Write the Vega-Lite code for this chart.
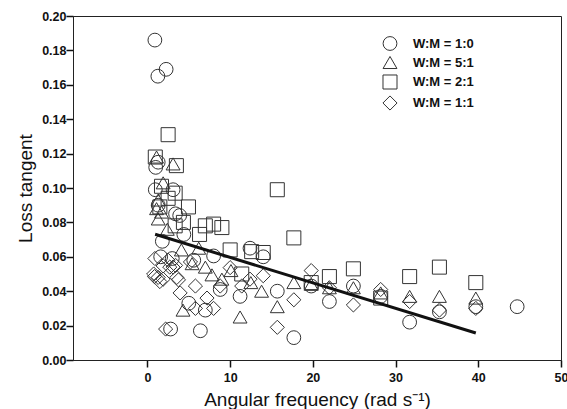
{
  "$schema": "https://vega.github.io/schema/vega-lite/v6.json",
  "width": 488,
  "height": 344,
  "autosize": {"type": "none"},
  "padding": {"left": 73, "top": 16, "right": 6, "bottom": 49},
  "background": "white",
  "config": {
    "view": {"stroke": "#222", "strokeWidth": 1, "fill": null},
    "font": "Liberation Sans",
    "axis": {"labelOverlap": false, "ticks": true, "tickColor": "#111", "tickWidth": 1.5, "grid": false, "zindex": 1}
  },
  "datasets": {
    "pts": [
      {"g": "W:M = 1:0", "x": 0.9, "y": 0.186},
      {"g": "W:M = 1:0", "x": 1.26, "y": 0.165},
      {"g": "W:M = 1:0", "x": 2.26, "y": 0.169},
      {"g": "W:M = 1:0", "x": 1.0, "y": 0.112},
      {"g": "W:M = 1:0", "x": 1.3, "y": 0.115},
      {"g": "W:M = 1:0", "x": 0.95, "y": 0.099},
      {"g": "W:M = 1:0", "x": 3.1, "y": 0.099},
      {"g": "W:M = 1:0", "x": 1.3, "y": 0.09},
      {"g": "W:M = 1:0", "x": 1.8, "y": 0.069},
      {"g": "W:M = 1:0", "x": 3.4, "y": 0.085},
      {"g": "W:M = 1:0", "x": 3.9, "y": 0.084},
      {"g": "W:M = 1:0", "x": 4.4, "y": 0.073},
      {"g": "W:M = 1:0", "x": 8.0, "y": 0.0605},
      {"g": "W:M = 1:0", "x": 5.6, "y": 0.058},
      {"g": "W:M = 1:0", "x": 1.6, "y": 0.06},
      {"g": "W:M = 1:0", "x": 3.0, "y": 0.059},
      {"g": "W:M = 1:0", "x": 8.8, "y": 0.041},
      {"g": "W:M = 1:0", "x": 11.2, "y": 0.037},
      {"g": "W:M = 1:0", "x": 12.4, "y": 0.065},
      {"g": "W:M = 1:0", "x": 14.0, "y": 0.06},
      {"g": "W:M = 1:0", "x": 5.0, "y": 0.033},
      {"g": "W:M = 1:0", "x": 7.0, "y": 0.029},
      {"g": "W:M = 1:0", "x": 2.8, "y": 0.018},
      {"g": "W:M = 1:0", "x": 6.4, "y": 0.017},
      {"g": "W:M = 1:0", "x": 15.7, "y": 0.04},
      {"g": "W:M = 1:0", "x": 17.7, "y": 0.013},
      {"g": "W:M = 1:0", "x": 19.8, "y": 0.043},
      {"g": "W:M = 1:0", "x": 22.0, "y": 0.034},
      {"g": "W:M = 1:0", "x": 24.9, "y": 0.043},
      {"g": "W:M = 1:0", "x": 28.2, "y": 0.037},
      {"g": "W:M = 1:0", "x": 31.7, "y": 0.022},
      {"g": "W:M = 1:0", "x": 35.3, "y": 0.028},
      {"g": "W:M = 1:0", "x": 39.7, "y": 0.031},
      {"g": "W:M = 1:0", "x": 44.7, "y": 0.031},
      {"g": "W:M = 5:1", "x": 1.1, "y": 0.118},
      {"g": "W:M = 5:1", "x": 3.1, "y": 0.114},
      {"g": "W:M = 5:1", "x": 1.9, "y": 0.103},
      {"g": "W:M = 5:1", "x": 1.3, "y": 0.093},
      {"g": "W:M = 5:1", "x": 1.1, "y": 0.088},
      {"g": "W:M = 5:1", "x": 1.3, "y": 0.082},
      {"g": "W:M = 5:1", "x": 1.7, "y": 0.086},
      {"g": "W:M = 5:1", "x": 2.4, "y": 0.076},
      {"g": "W:M = 5:1", "x": 4.1, "y": 0.064},
      {"g": "W:M = 5:1", "x": 6.2, "y": 0.065},
      {"g": "W:M = 5:1", "x": 7.0, "y": 0.054},
      {"g": "W:M = 5:1", "x": 7.8, "y": 0.0495},
      {"g": "W:M = 5:1", "x": 9.0, "y": 0.047},
      {"g": "W:M = 5:1", "x": 10.1, "y": 0.052},
      {"g": "W:M = 5:1", "x": 5.4, "y": 0.056},
      {"g": "W:M = 5:1", "x": 4.3, "y": 0.029},
      {"g": "W:M = 5:1", "x": 11.2, "y": 0.025},
      {"g": "W:M = 5:1", "x": 12.5, "y": 0.045},
      {"g": "W:M = 5:1", "x": 13.8, "y": 0.04},
      {"g": "W:M = 5:1", "x": 15.7, "y": 0.031},
      {"g": "W:M = 5:1", "x": 17.7, "y": 0.045},
      {"g": "W:M = 5:1", "x": 19.8, "y": 0.044},
      {"g": "W:M = 5:1", "x": 22.0, "y": 0.042},
      {"g": "W:M = 5:1", "x": 24.9, "y": 0.042},
      {"g": "W:M = 5:1", "x": 28.2, "y": 0.039},
      {"g": "W:M = 5:1", "x": 31.7, "y": 0.037},
      {"g": "W:M = 5:1", "x": 35.3, "y": 0.037},
      {"g": "W:M = 5:1", "x": 39.7, "y": 0.036},
      {"g": "W:M = 2:1", "x": 2.5, "y": 0.131},
      {"g": "W:M = 2:1", "x": 0.95, "y": 0.118},
      {"g": "W:M = 2:1", "x": 3.5, "y": 0.113},
      {"g": "W:M = 2:1", "x": 1.7, "y": 0.101},
      {"g": "W:M = 2:1", "x": 2.5, "y": 0.094},
      {"g": "W:M = 2:1", "x": 1.5, "y": 0.089},
      {"g": "W:M = 2:1", "x": 3.35, "y": 0.097},
      {"g": "W:M = 2:1", "x": 4.96, "y": 0.089},
      {"g": "W:M = 2:1", "x": 4.35, "y": 0.08},
      {"g": "W:M = 2:1", "x": 3.35, "y": 0.078},
      {"g": "W:M = 2:1", "x": 7.0, "y": 0.078},
      {"g": "W:M = 2:1", "x": 8.0, "y": 0.079},
      {"g": "W:M = 2:1", "x": 9.0, "y": 0.077},
      {"g": "W:M = 2:1", "x": 6.3, "y": 0.073},
      {"g": "W:M = 2:1", "x": 10.0, "y": 0.064},
      {"g": "W:M = 2:1", "x": 11.4, "y": 0.05},
      {"g": "W:M = 2:1", "x": 12.6, "y": 0.063},
      {"g": "W:M = 2:1", "x": 14.0, "y": 0.0625},
      {"g": "W:M = 2:1", "x": 15.7, "y": 0.099},
      {"g": "W:M = 2:1", "x": 17.7, "y": 0.071},
      {"g": "W:M = 2:1", "x": 19.8, "y": 0.045},
      {"g": "W:M = 2:1", "x": 22.0, "y": 0.0485},
      {"g": "W:M = 2:1", "x": 24.9, "y": 0.053},
      {"g": "W:M = 2:1", "x": 28.2, "y": 0.036},
      {"g": "W:M = 2:1", "x": 31.7, "y": 0.0485},
      {"g": "W:M = 2:1", "x": 35.3, "y": 0.054},
      {"g": "W:M = 2:1", "x": 39.7, "y": 0.045},
      {"g": "W:M = 1:1", "x": 0.9, "y": 0.059},
      {"g": "W:M = 1:1", "x": 0.75, "y": 0.05},
      {"g": "W:M = 1:1", "x": 0.85, "y": 0.0485},
      {"g": "W:M = 1:1", "x": 1.3, "y": 0.048},
      {"g": "W:M = 1:1", "x": 1.5, "y": 0.0456},
      {"g": "W:M = 1:1", "x": 1.9, "y": 0.0547},
      {"g": "W:M = 1:1", "x": 1.9, "y": 0.047},
      {"g": "W:M = 1:1", "x": 2.5, "y": 0.058},
      {"g": "W:M = 1:1", "x": 2.7, "y": 0.054},
      {"g": "W:M = 1:1", "x": 3.1, "y": 0.054},
      {"g": "W:M = 1:1", "x": 3.4, "y": 0.055},
      {"g": "W:M = 1:1", "x": 3.55, "y": 0.048},
      {"g": "W:M = 1:1", "x": 3.75, "y": 0.0466},
      {"g": "W:M = 1:1", "x": 3.95, "y": 0.039},
      {"g": "W:M = 1:1", "x": 5.2, "y": 0.057},
      {"g": "W:M = 1:1", "x": 5.8, "y": 0.043},
      {"g": "W:M = 1:1", "x": 7.2, "y": 0.036},
      {"g": "W:M = 1:1", "x": 8.0, "y": 0.03},
      {"g": "W:M = 1:1", "x": 5.8, "y": 0.03},
      {"g": "W:M = 1:1", "x": 2.2, "y": 0.018},
      {"g": "W:M = 1:1", "x": 10.0, "y": 0.0537},
      {"g": "W:M = 1:1", "x": 8.8, "y": 0.043},
      {"g": "W:M = 1:1", "x": 11.4, "y": 0.043},
      {"g": "W:M = 1:1", "x": 12.4, "y": 0.047},
      {"g": "W:M = 1:1", "x": 14.0, "y": 0.049},
      {"g": "W:M = 1:1", "x": 15.7, "y": 0.019},
      {"g": "W:M = 1:1", "x": 17.7, "y": 0.035},
      {"g": "W:M = 1:1", "x": 19.8, "y": 0.052},
      {"g": "W:M = 1:1", "x": 22.0, "y": 0.042},
      {"g": "W:M = 1:1", "x": 24.9, "y": 0.032},
      {"g": "W:M = 1:1", "x": 28.2, "y": 0.041},
      {"g": "W:M = 1:1", "x": 31.7, "y": 0.034},
      {"g": "W:M = 1:1", "x": 35.3, "y": 0.029},
      {"g": "W:M = 1:1", "x": 39.7, "y": 0.03}
    ],
    "fit": [
      {"x": 0.93, "y": 0.0731},
      {"x": 39.7, "y": 0.0157}
    ]
  },
  "encoding": {
    "x": {
      "field": "x", "type": "quantitative",
      "scale": {"domain": [-9, 50], "nice": false, "zero": false},
      "axis": {
        "values": [0, 10, 20, 30, 40, 50], "title": "Angular frequency (rad s\u207b\u00b9)",
        "domain": true, "domainColor": "#222", "ticks": true, "tickSize": 7, "zindex": 1, "labelOverlap": false, "labelFlush": false,
        "labelFont": "Liberation Sans", "labelFontWeight": "bold", "labelFontSize": 12.5, "labelColor": "#111", "labelPadding": 4,
        "titleFont": "Liberation Sans", "titleFontSize": 19, "titleFontWeight": "normal", "titleColor": "#111",
        "titleBaseline": "alphabetic", "titleY": 45
      }
    },
    "y": {
      "field": "y", "type": "quantitative",
      "scale": {"domain": [0, 0.2], "nice": false},
      "axis": {
        "values": [0, 0.02, 0.04, 0.06, 0.08, 0.1, 0.12, 0.14, 0.16, 0.18, 0.2], "format": ".2f", "title": "Loss tangent",
        "domain": true, "domainColor": "#222", "ticks": true, "tickSize": 7, "zindex": 1, "labelOverlap": false, "labelFlush": false,
        "labelFont": "Liberation Sans", "labelFontWeight": "bold", "labelFontSize": 12.5, "labelColor": "#111", "labelPadding": 0,
        "titleFont": "Liberation Sans", "titleFontSize": 19, "titleFontWeight": "normal", "titleColor": "#111",
        "titleBaseline": "alphabetic", "titleX": -42
      }
    }
  },
  "layer": [
    {
      "data": {"name": "pts"},
      "mark": {"type": "point", "filled": false, "color": "#333", "strokeWidth": 1, "opacity": 1},
      "encoding": {
        "shape": {
          "field": "g", "type": "nominal",
          "scale": {"domain": ["W:M = 1:0", "W:M = 5:1", "W:M = 2:1", "W:M = 1:1"], "range": ["circle", "triangle-up", "square", "diamond"]},
          "legend": {
            "title": null, "orient": "none", "legendX": 309, "legendY": 20,
            "labelFont": "Liberation Sans", "labelFontWeight": "bold", "labelFontSize": 13, "labelColor": "#111",
            "labelOffset": 15, "rowPadding": 1, "padding": 0,
            "symbolStrokeColor": "#333", "symbolFillColor": "transparent", "symbolStrokeWidth": 1
          }
        },
        "size": {
          "field": "g", "type": "nominal",
          "scale": {"domain": ["W:M = 1:0", "W:M = 5:1", "W:M = 2:1", "W:M = 1:1"], "range": [190, 200, 160, 250]}
        }
      }
    },
    {
      "data": {"name": "fit"},
      "mark": {"type": "line", "color": "#111", "strokeWidth": 3},
      "encoding": {}
    }
  ]
}
